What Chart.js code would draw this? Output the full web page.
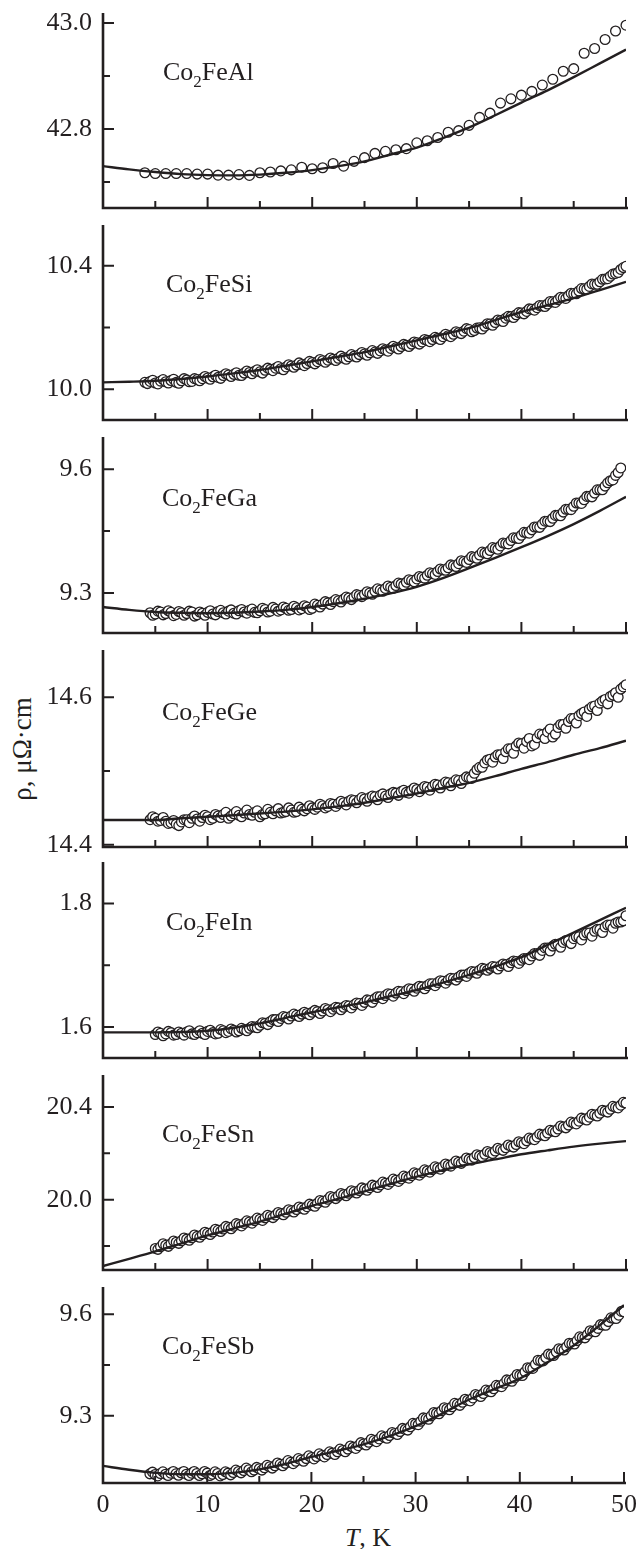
<!DOCTYPE html>
<html>
<head>
<meta charset="utf-8">
<title>Co2FeZ resistivity, 0-50 K</title>
<script src="https://cdn.jsdelivr.net/npm/chart.js@4.4.1/dist/chart.umd.min.js"></script>
<style>
    html, body { margin: 0; padding: 0; background: #fff; }
    #figure { position: relative; width: 644px; height: 1549px; overflow: hidden; }
    #figure canvas { position: absolute; left: 0; }
    .axis-title {
        position: absolute;
        font-family: 'Liberation Serif', 'Times New Roman', serif;
        color: #231f20;
        white-space: nowrap;
        text-align: center;
    }
    #yTitle { left: -48px; top: 734px; width: 140px; height: 30px; line-height: 30px; font-size: 27px; transform: rotate(-90deg); }
    #xTitle { left: 318px; top: 1525px; width: 100px; line-height: 26px; font-size: 26px; }
</style>
</head>
<body>
<div id="figure">
    <div id="yTitle" class="axis-title">ρ, μΩ·cm</div>
    <div id="xTitle" class="axis-title"><i>T</i>, K</div>
</div>

<script>
// ---- data ----

// Co2FeAl was measured roughly every 1 K
const TEMPS_AL = [4, 5, 6, 7, 8, 9, 10, 11, 12, 13, 14, 15, 16, 17, 18, 19, 20, 21, 22, 23,
    24, 25, 26, 27, 28, 29, 30, 31, 32, 33, 34, 35, 36, 37, 38, 39, 40, 41, 42, 43,
    44, 45, 46, 47, 48, 49, 50];

// the other samples are dense: readings on the 0.5 K grid (A) and in between (B); null = no point
const TEMPS_A = [4.0, 4.5, 5.0, 5.5, 6.0, 6.5, 7.0, 7.5, 8.0, 8.5,
    9.0, 9.5, 10.0, 10.5, 11.0, 11.5, 12.0, 12.5, 13.0, 13.5,
    14.0, 14.5, 15.0, 15.5, 16.0, 16.5, 17.0, 17.5, 18.0, 18.5,
    19.0, 19.5, 20.0, 20.5, 21.0, 21.5, 22.0, 22.5, 23.0, 23.5,
    24.0, 24.5, 25.0, 25.5, 26.0, 26.5, 27.0, 27.5, 28.0, 28.5,
    29.0, 29.5, 30.0, 30.5, 31.0, 31.5, 32.0, 32.5, 33.0, 33.5,
    34.0, 34.5, 35.0, 35.5, 36.0, 36.5, 37.0, 37.5, 38.0, 38.5,
    39.0, 39.5, 40.0, 40.5, 41.0, 41.5, 42.0, 42.5, 43.0, 43.5,
    44.0, 44.5, 45.0, 45.5, 46.0, 46.5, 47.0, 47.5, 48.0, 48.5,
    49.0, 49.5, 50.0];
const TEMPS_B = [4.25, 4.75, 5.25, 5.75, 6.25, 6.75, 7.25, 7.75, 8.25, 8.75,
    9.25, 9.75, 10.25, 10.75, 11.25, 11.75, 12.25, 12.75, 13.25, 13.75,
    14.25, 14.75, 15.25, 15.75, 16.25, 16.75, 17.25, 17.75, 18.25, 18.75,
    19.25, 19.75, 20.25, 20.75, 21.25, 21.75, 22.25, 22.75, 23.25, 23.75,
    24.25, 24.75, 25.25, 25.75, 26.25, 26.75, 27.25, 27.75, 28.25, 28.75,
    29.25, 29.75, 30.25, 30.75, 31.25, 31.75, 32.25, 32.75, 33.25, 33.75,
    34.25, 34.75, 35.25, 35.75, 36.25, 36.75, 37.25, 37.75, 38.25, 38.75,
    39.25, 39.75, 40.25, 40.75, 41.25, 41.75, 42.25, 42.75, 43.25, 43.75,
    44.25, 44.75, 45.25, 45.75, 46.25, 46.75, 47.25, 47.75, 48.25, 48.75,
    49.25, 49.75];

// temperatures of the fitted curves
const FIT_TEMPS = [0, 2.5, 5, 7.5, 10, 12.5, 15, 17.5, 20, 22.5, 25, 27.5, 30, 32.5, 35,
    37.5, 40, 42.5, 45, 47.5, 50];

const RHO_AL = [42.7175, 42.716, 42.716, 42.716, 42.716, 42.715, 42.715, 42.713, 42.713, 42.714,
    42.7125, 42.7175, 42.719, 42.721, 42.723, 42.728, 42.725, 42.727, 42.735, 42.730,
    42.739, 42.746, 42.754, 42.758, 42.761, 42.763, 42.774, 42.778, 42.784, 42.794,
    42.797, 42.807, 42.822, 42.830, 42.849, 42.857, 42.864, 42.871, 42.883, 42.894,
    42.909, 42.914, 42.943, 42.952, 42.969, 42.985, 42.996];
const FIT_AL = [42.730, 42.724, 42.719, 42.715, 42.713, 42.7125, 42.714, 42.7175, 42.7225, 42.730,
    42.739, 42.752, 42.765, 42.783, 42.803, 42.826, 42.850, 42.873, 42.898, 42.924, 42.950];

const RHO_SI_A = [10.022, 10.025, 10.020, 10.026, 10.024, 10.028, 10.022, 10.027, 10.030, 10.025,
    10.031, 10.034, 10.036, 10.040, 10.038, 10.044, 10.046, 10.048, 10.045, 10.052,
    10.054, 10.058, 10.056, 10.061, 10.064, 10.068, 10.066, 10.072, 10.075, 10.078,
    10.080, 10.083, 10.086, 10.089, 10.092, 10.094, 10.097, 10.100, 10.101, 10.105,
    10.107, 10.112, 10.114, 10.118, 10.120, 10.124, 10.127, 10.132, 10.134, 10.138,
    10.142, 10.146, 10.150, 10.153, 10.158, 10.161, 10.165, 10.170, 10.173, 10.178,
    10.183, 10.188, 10.193, 10.190, 10.199, 10.204, 10.211, 10.216, 10.222, 10.230,
    10.235, 10.241, 10.247, 10.252, 10.259, 10.264, 10.270, 10.276, 10.283, 10.290,
    10.296, 10.303, 10.310, 10.318, 10.325, 10.333, 10.340, 10.348, 10.357, 10.366,
    10.375, 10.388, 10.398];
const RHO_SI_B = [10.018, 10.029, 10.017, 10.031, 10.020, 10.032, 10.019, 10.034, 10.024, 10.034,
    10.027, 10.041, 10.032, 10.045, 10.035, 10.050, 10.041, 10.053, 10.044, 10.059,
    10.050, 10.063, 10.052, 10.068, 10.060, 10.073, 10.063, 10.079, 10.071, 10.085,
    10.076, 10.090, 10.082, 10.096, 10.087, 10.101, 10.093, 10.107, 10.097, 10.112,
    10.104, 10.119, 10.110, 10.125, 10.116, 10.131, 10.123, 10.139, 10.130, 10.145,
    10.138, 10.153, 10.146, 10.161, 10.154, 10.168, 10.161, 10.178, 10.170, 10.186,
    10.180, 10.196, 10.186, 10.198, 10.195, 10.212, 10.207, 10.224, 10.219, 10.236,
    10.232, 10.248, 10.244, 10.260, 10.256, 10.271, 10.268, 10.284, 10.281, 10.298,
    10.294, 10.311, 10.309, 10.326, 10.324, 10.341, 10.340, 10.356, 10.358, 10.373,
    10.378, 10.394];
const FIT_SI = [10.022, 10.024, 10.027, 10.033, 10.041, 10.051, 10.062, 10.076, 10.090, 10.105,
    10.120, 10.139, 10.158, 10.178, 10.198, 10.224, 10.250, 10.272, 10.295, 10.321, 10.348];

const RHO_GA_A = [null, 9.252, 9.249, 9.254, 9.250, 9.253, 9.248, 9.252, 9.250, 9.254,
    9.247, 9.251, 9.253, 9.249, 9.255, 9.252, 9.256, 9.251, 9.257, 9.254,
    9.258, 9.253, 9.257, 9.260, 9.256, 9.261, 9.259, 9.263, 9.260, 9.264,
    9.262, 9.266, 9.263, 9.270, 9.273, 9.276, 9.279, 9.281, 9.285, 9.288,
    9.290, 9.294, 9.297, 9.300, 9.304, 9.307, 9.311, 9.314, 9.318, 9.322,
    9.326, 9.330, 9.334, 9.338, 9.343, 9.347, 9.352, 9.356, 9.361, 9.366,
    9.371, 9.376, 9.381, 9.386, 9.392, 9.397, 9.403, 9.408, 9.414, 9.420,
    9.427, 9.433, 9.440, 9.446, 9.453, 9.460, 9.467, 9.474, 9.481, 9.488,
    9.496, 9.503, 9.510, 9.518, 9.526, 9.534, 9.542, 9.550, 9.559, 9.572,
    9.585, 9.603, null];
const RHO_GA_B = [null, 9.246, 9.256, 9.247, 9.257, 9.245, 9.255, 9.246, 9.256, 9.244,
    9.254, 9.246, 9.257, 9.247, 9.258, 9.249, 9.259, 9.249, 9.260, 9.251,
    9.261, 9.252, 9.263, 9.254, 9.265, 9.256, 9.266, 9.258, 9.268, 9.259,
    9.269, 9.260, 9.273, 9.266, 9.279, 9.272, 9.284, 9.278, 9.290, 9.284,
    9.296, 9.291, 9.303, 9.297, 9.310, 9.304, 9.317, 9.311, 9.324, 9.319,
    9.332, 9.327, 9.340, 9.336, 9.349, 9.345, 9.358, 9.355, 9.368, 9.364,
    9.378, 9.374, 9.388, 9.384, 9.399, 9.395, 9.410, 9.406, 9.421, 9.419,
    9.434, 9.432, 9.447, 9.445, 9.460, 9.459, 9.474, 9.473, 9.488, 9.487,
    9.503, 9.502, 9.518, 9.517, 9.534, 9.533, 9.550, 9.550, 9.567, 9.574,
    9.592, null];
const FIT_GA = [9.266, 9.259, 9.254, 9.252, 9.251, 9.252, 9.255, 9.259, 9.266, 9.275,
    9.286, 9.299, 9.315, 9.336, 9.360, 9.385, 9.411, 9.438, 9.467, 9.499, 9.533];

const RHO_GE_A = [null, 14.434, 14.436, 14.433, 14.432, 14.430, 14.428, 14.431, 14.434, 14.436,
    14.435, 14.437, 14.438, 14.436, 14.439, 14.441, 14.436, 14.442, 14.440, 14.443,
    14.441, 14.444, 14.438, 14.442, 14.444, 14.446, 14.443, 14.445, 14.447, 14.445,
    14.448, 14.449, 14.450, 14.451, 14.453, 14.452, 14.455, 14.456, 14.457, 14.459,
    14.460, 14.461, 14.462, 14.464, 14.465, 14.467, 14.466, 14.469, 14.470, 14.472,
    14.471, 14.474, 14.475, 14.476, 14.478, 14.479, 14.481, 14.482, 14.484, 14.485,
    14.487, 14.489, 14.491, 14.497, 14.505, 14.511, 14.516, 14.519, 14.522, 14.526,
    14.530, 14.534, 14.537, 14.540, 14.534, 14.545, 14.549, 14.553, 14.546, 14.559,
    14.563, 14.567, 14.571, 14.575, 14.580, 14.584, 14.588, 14.592, 14.597, 14.601,
    14.606, 14.611, 14.617];
const RHO_GE_B = [null, 14.438, 14.432, 14.437, 14.429, 14.433, 14.426, 14.434, 14.430, 14.439,
    14.432, 14.440, 14.434, 14.441, 14.437, 14.444, 14.439, 14.445, 14.438, 14.447,
    14.440, 14.446, 14.441, 14.448, 14.442, 14.449, 14.444, 14.450, 14.444, 14.451,
    14.446, 14.453, 14.448, 14.455, 14.450, 14.456, 14.452, 14.459, 14.454, 14.461,
    14.457, 14.464, 14.459, 14.466, 14.461, 14.469, 14.464, 14.471, 14.467, 14.474,
    14.470, 14.477, 14.472, 14.479, 14.474, 14.482, 14.477, 14.485, 14.480, 14.488,
    14.483, 14.492, 14.490, 14.502, 14.505, 14.515, 14.512, 14.522, 14.517, 14.530,
    14.524, 14.538, 14.531, 14.544, 14.536, 14.550, 14.544, 14.557, 14.550, 14.563,
    14.558, 14.571, 14.565, 14.578, 14.574, 14.587, 14.582, 14.595, 14.591, 14.603,
    14.600, 14.614];
const FIT_GE = [14.4335, 14.4335, 14.4335, 14.436, 14.438, 14.440, 14.4425, 14.445, 14.448, 14.452,
    14.457, 14.463, 14.4695, 14.477, 14.484, 14.493, 14.503, 14.512, 14.522, 14.531, 14.541];

const RHO_IN_A = [null, null, 1.588, 1.590, 1.589, 1.591, 1.588, 1.590, 1.592, 1.589,
    1.591, 1.590, 1.593, 1.591, 1.590, 1.594, 1.593, 1.595, 1.594, 1.596,
    1.598, 1.600, 1.603, 1.606, 1.609, 1.612, 1.614, 1.616, 1.618, 1.619,
    1.621, 1.622, 1.624, 1.625, 1.626, 1.628, 1.629, 1.631, 1.632, 1.634,
    1.636, 1.638, 1.640, 1.643, 1.646, 1.649, 1.651, 1.653, 1.655, 1.657,
    1.659, 1.661, 1.663, 1.665, 1.667, 1.670, 1.672, 1.674, 1.676, 1.678,
    1.681, 1.684, 1.687, 1.689, 1.692, 1.694, 1.695, 1.697, 1.699, 1.701,
    1.704, 1.706, 1.708, 1.711, 1.715, 1.719, 1.724, 1.728, 1.731, 1.734,
    1.737, 1.740, 1.743, 1.746, 1.749, 1.752, 1.755, 1.758, 1.762, 1.765,
    1.768, 1.770, 1.780];
const RHO_IN_B = [null, null, 1.592, 1.586, 1.593, 1.587, 1.592, 1.587, 1.594, 1.588,
    1.594, 1.588, 1.595, 1.589, 1.596, 1.591, 1.597, 1.592, 1.598, 1.594,
    1.601, 1.599, 1.607, 1.604, 1.612, 1.609, 1.617, 1.613, 1.621, 1.617,
    1.624, 1.620, 1.627, 1.622, 1.630, 1.625, 1.632, 1.628, 1.635, 1.631,
    1.639, 1.635, 1.644, 1.640, 1.649, 1.646, 1.654, 1.650, 1.658, 1.654,
    1.662, 1.658, 1.666, 1.662, 1.670, 1.667, 1.675, 1.671, 1.679, 1.676,
    1.684, 1.682, 1.690, 1.687, 1.695, 1.692, 1.698, 1.694, 1.702, 1.698,
    1.707, 1.703, 1.711, 1.709, 1.719, 1.716, 1.728, 1.723, 1.734, 1.729,
    1.740, 1.735, 1.746, 1.741, 1.752, 1.747, 1.758, 1.753, 1.765, 1.760,
    1.770, 1.772];
const FIT_IN = [1.5914, 1.5914, 1.5914, 1.592, 1.594, 1.599, 1.606, 1.615, 1.624, 1.632,
    1.640, 1.650, 1.660, 1.672, 1.6845, 1.698, 1.713, 1.733, 1.753, 1.773, 1.793];

const RHO_SN_A = [null, null, 19.790, 19.797, 19.804, 19.810, 19.817, 19.823, 19.830, 19.836,
    19.842, 19.849, 19.855, 19.861, 19.868, 19.874, 19.880, 19.886, 19.892, 19.898,
    19.904, 19.910, 19.916, 19.922, 19.928, 19.934, 19.940, 19.946, 19.952, 19.958,
    19.964, 19.970, 19.976, 19.985, 19.993, 20.002, 20.010, 20.016, 20.022, 20.028,
    20.034, 20.040, 20.046, 20.052, 20.058, 20.064, 20.071, 20.077, 20.084, 20.090,
    20.097, 20.104, 20.111, 20.117, 20.124, 20.130, 20.137, 20.143, 20.149, 20.156,
    20.162, 20.168, 20.175, 20.182, 20.189, 20.196, 20.203, 20.210, 20.217, 20.224,
    20.231, 20.238, 20.246, 20.254, 20.262, 20.271, 20.279, 20.288, 20.296, 20.305,
    20.314, 20.322, 20.331, 20.339, 20.348, 20.356, 20.365, 20.373, 20.382, 20.390,
    20.399, 20.408, 20.417];
const RHO_SN_B = [null, null, 19.786, 19.810, 19.799, 19.822, 19.812, 19.835, 19.825, 19.848,
    19.838, 19.860, 19.850, 19.873, 19.863, 19.885, 19.875, 19.897, 19.887, 19.909,
    19.899, 19.921, 19.911, 19.933, 19.923, 19.945, 19.935, 19.957, 19.947, 19.969,
    19.959, 19.981, 19.972, 19.997, 19.989, 20.014, 20.005, 20.027, 20.017, 20.039,
    20.029, 20.051, 20.041, 20.063, 20.053, 20.076, 20.066, 20.089, 20.079, 20.102,
    20.093, 20.116, 20.106, 20.129, 20.119, 20.142, 20.132, 20.154, 20.145, 20.167,
    20.157, 20.180, 20.171, 20.194, 20.185, 20.208, 20.199, 20.222, 20.213, 20.236,
    20.227, 20.250, 20.242, 20.266, 20.259, 20.283, 20.276, 20.300, 20.293, 20.318,
    20.310, 20.335, 20.327, 20.352, 20.344, 20.369, 20.361, 20.386, 20.378, 20.403,
    20.396, 20.420];
const FIT_SN = [19.714, 19.745, 19.777, 19.812, 19.846, 19.876, 19.906, 19.940, 19.974, 20.004,
    20.036, 20.068, 20.100, 20.128, 20.153, 20.174, 20.196, 20.213, 20.229, 20.242, 20.253];

const RHO_SB_A = [null, 9.129, 9.127, 9.130, 9.128, 9.131, 9.129, 9.132, 9.128, 9.131,
    9.130, 9.129, 9.131, 9.128, 9.130, 9.127, 9.131, 9.133, 9.136, 9.139,
    9.141, 9.140, 9.144, 9.147, 9.150, 9.153, 9.157, 9.160, 9.163, 9.166,
    9.170, 9.174, 9.177, 9.180, 9.183, 9.186, 9.190, 9.194, 9.198, 9.202,
    9.207, 9.212, 9.217, 9.222, 9.227, 9.232, 9.237, 9.242, 9.248, 9.254,
    9.260, 9.268, 9.276, 9.284, 9.292, 9.300, 9.308, 9.315, 9.321, 9.327,
    9.334, 9.340, 9.346, 9.353, 9.360, 9.366, 9.373, 9.380, 9.388, 9.396,
    9.404, 9.412, 9.420, 9.430, 9.441, 9.452, 9.463, 9.472, 9.480, 9.488,
    9.496, 9.504, 9.513, 9.522, 9.531, 9.540, 9.549, 9.558, 9.568, 9.578,
    9.588, 9.597, 9.607];
const RHO_SB_B = [null, 9.134, 9.123, 9.135, 9.124, 9.136, 9.125, 9.136, 9.124, 9.136,
    9.124, 9.136, 9.124, 9.135, 9.123, 9.135, 9.126, 9.140, 9.132, 9.146,
    9.135, 9.148, 9.140, 9.154, 9.146, 9.161, 9.153, 9.168, 9.159, 9.174,
    9.166, 9.182, 9.173, 9.188, 9.179, 9.194, 9.186, 9.202, 9.194, 9.211,
    9.204, 9.221, 9.214, 9.231, 9.224, 9.241, 9.234, 9.251, 9.245, 9.263,
    9.258, 9.278, 9.274, 9.294, 9.290, 9.310, 9.306, 9.324, 9.318, 9.337,
    9.331, 9.349, 9.344, 9.363, 9.357, 9.376, 9.371, 9.390, 9.386, 9.406,
    9.402, 9.422, 9.419, 9.442, 9.440, 9.464, 9.462, 9.482, 9.478, 9.498,
    9.494, 9.514, 9.512, 9.533, 9.530, 9.551, 9.548, 9.569, 9.567, 9.589,
    9.587, 9.608];
const FIT_SB = [9.1525, 9.141, 9.132, 9.128, 9.128, 9.132, 9.142, 9.158, 9.179, 9.197,
    9.216, 9.240, 9.2695, 9.306, 9.346, 9.378, 9.410, 9.455, 9.5036, 9.563, 9.6266];

// labels and ticks
const FORMULAS = ['Co2FeAl', 'Co2FeSi', 'Co2FeGa', 'Co2FeGe', 'Co2FeIn', 'Co2FeSn', 'Co2FeSb'];
const Y_MAJOR = [[42.8, 43.0], [10.0, 10.4], [9.3, 9.6], [14.4, 14.6], [1.6, 1.8], [20.0, 20.4], [9.3, 9.6]];
const Y_MINOR = [[42.7, 42.9], [10.2], [9.45], [14.5], [1.7], [19.8, 20.2], [9.45]];
const X_MAJOR = [10, 20, 30, 40, 50];
const X_MINOR = [5, 15, 25, 35, 45];

// ---- layout ----
const INK = '#231f20';
const SERIF = "'Liberation Serif', 'Times New Roman', serif";
const FIG_W = 644;
const FIG_H = 1549;
const PAD = 30;          // room above / below each plot box inside its canvas
const AXIS_LEFT = 103;   // page x of the T = 0 axis
const PAD_RIGHT = 18;    // 644 - page x of T = 50
const X_AXIS_H = 66;     // tick-label band under the last panel

// page y of each plot box, y range, and where the compound name sits
const PANELS = [
    { series: [[TEMPS_AL, RHO_AL]], fit: FIT_AL, top: 13, bottom: 208, min: 42.651, max: 43.019, labelX: 163, labelDy: 67 },
    { series: [[TEMPS_A, RHO_SI_A], [TEMPS_B, RHO_SI_B]], fit: FIT_SI, top: 225, bottom: 420, min: 9.900, max: 10.532, labelX: 166, labelDy: 67 },
    { series: [[TEMPS_A, RHO_GA_A], [TEMPS_B, RHO_GA_B]], fit: FIT_GA, top: 437, bottom: 633, min: 9.203, max: 9.678, labelX: 162, labelDy: 69 },
    { series: [[TEMPS_A, RHO_GE_A], [TEMPS_B, RHO_GE_B]], fit: FIT_GE, top: 650, bottom: 847, min: 14.397, max: 14.664, labelX: 162, labelDy: 70 },
    { series: [[TEMPS_A, RHO_IN_A], [TEMPS_B, RHO_IN_B]], fit: FIT_IN, top: 862, bottom: 1058, min: 1.550, max: 1.867, labelX: 166, labelDy: 68 },
    { series: [[TEMPS_A, RHO_SN_A], [TEMPS_B, RHO_SN_B]], fit: FIT_SN, top: 1075, bottom: 1270, min: 19.697, max: 20.538, labelX: 162, labelDy: 67 },
    { series: [[TEMPS_A, RHO_SB_A], [TEMPS_B, RHO_SB_B]], fit: FIT_SB, top: 1287, bottom: 1483, min: 9.102, max: 9.680, labelX: 162, labelDy: 67 }
];

// Axis lines, inward ticks and the compound name (with subscript)
const framePlugin = {
    id: 'frame',
    afterDatasetsDraw(chart, args, opts) {
        const { ctx, chartArea: a, scales: { x, y } } = chart;
        ctx.save();
        ctx.strokeStyle = INK;
        ctx.lineCap = 'butt';

        ctx.lineWidth = 2.6;
        ctx.beginPath();
        ctx.moveTo(a.left, a.top);
        ctx.lineTo(a.left, a.bottom + 1.3);
        ctx.moveTo(a.left - 1.3, a.bottom);
        ctx.lineTo(a.right + 2, a.bottom);
        ctx.stroke();

        ctx.lineWidth = 2;
        ctx.beginPath();
        const tickY = (v, len) => {
            const py = y.getPixelForValue(v);
            ctx.moveTo(a.left, py);
            ctx.lineTo(a.left + len, py);
        };
        const tickX = (v, len) => {
            const px = x.getPixelForValue(v);
            ctx.moveTo(px, a.bottom);
            ctx.lineTo(px, a.bottom - len);
        };
        opts.major.forEach(v => tickY(v, 11));
        opts.minor.forEach(v => tickY(v, 7));
        X_MAJOR.forEach(v => tickX(v, 11));
        X_MINOR.forEach(v => tickX(v, 7));
        ctx.stroke();

        // "Co2FeAl" -> Co, subscript 2, FeAl
        const [, head, sub, tail] = opts.formula.match(/^(\D+)(\d+)(.*)$/);
        const base = a.top + opts.labelDy;
        let cx = opts.labelX;
        ctx.fillStyle = INK;
        ctx.textAlign = 'left';
        ctx.textBaseline = 'alphabetic';
        ctx.font = `26px ${SERIF}`;
        ctx.fillText(head, cx, base);
        cx += ctx.measureText(head).width;
        ctx.font = `17px ${SERIF}`;
        ctx.fillText(sub, cx, base + 7);
        cx += ctx.measureText(sub).width;
        ctx.font = `26px ${SERIF}`;
        ctx.fillText(tail, cx, base);
        ctx.restore();
    }
};

function toPoints(xs, ys) {
    return xs.map((t, i) => ({ x: t, y: ys[i] })).filter(p => p.y !== null);
}

// measured points of one sample, in order of temperature
function measured(series) {
    return series
        .flatMap(([xs, ys]) => toPoints(xs, ys))
        .sort((p, q) => p.x - q.x);
}

function buildPanel(p, i) {
    const isLast = i === PANELS.length - 1;
    const top = p.top - PAD;
    const height = isLast ? FIG_H - top : (p.bottom - p.top) + 2 * PAD;

    const canvas = document.createElement('canvas');
    canvas.width = FIG_W;
    canvas.height = height;
    canvas.style.top = top + 'px';
    canvas.style.width = FIG_W + 'px';
    canvas.style.height = height + 'px';
    document.getElementById('figure').appendChild(canvas);

    const tickFont = { family: SERIF, size: 26 };

    new Chart(canvas, {
        type: 'scatter',
        data: {
            datasets: [
                {
                    label: 'fit',
                    data: toPoints(FIT_TEMPS, p.fit),
                    showLine: true,
                    borderColor: INK,
                    borderWidth: 2.4,
                    pointRadius: 0,
                    fill: false,
                    cubicInterpolationMode: 'monotone',
                    order: 0
                },
                {
                    label: FORMULAS[i],
                    data: measured(p.series),
                    pointRadius: 4.9,
                    pointBorderWidth: 1.3,
                    pointBackgroundColor: '#ffffff',
                    pointBorderColor: INK,
                    order: 1
                }
            ]
        },
        options: {
            responsive: false,
            animation: false,
            devicePixelRatio: 1,
            events: [],
            layout: { padding: { top: PAD, right: PAD_RIGHT, bottom: isLast ? 0 : PAD, left: 0 } },
            plugins: {
                legend: { display: false },
                tooltip: { enabled: false },
                frame: {
                    major: Y_MAJOR[i],
                    minor: Y_MINOR[i],
                    formula: FORMULAS[i],
                    labelX: p.labelX,
                    labelDy: p.labelDy
                }
            },
            scales: {
                x: {
                    type: 'linear',
                    min: 0,
                    max: 50,
                    display: isLast,
                    grid: { display: false, drawTicks: false },
                    border: { display: false },
                    ticks: { stepSize: 10, padding: 7, color: INK, font: tickFont, maxRotation: 0, autoSkip: false },
                    afterFit: s => { s.height = isLast ? X_AXIS_H : 0; }
                },
                y: {
                    min: p.min,
                    max: p.max,
                    grid: { display: false, drawTicks: false },
                    border: { display: false },
                    ticks: {
                        autoSkip: false,
                        padding: 11,
                        color: INK,
                        font: tickFont,
                        callback: v => v.toFixed(1)
                    },
                    afterBuildTicks: s => { s.ticks = Y_MAJOR[i].map(v => ({ value: v })); },
                    afterFit: s => { s.width = AXIS_LEFT; }
                }
            }
        },
        plugins: [framePlugin]
    });
}

PANELS.forEach(buildPanel);
</script>
</body>
</html>
